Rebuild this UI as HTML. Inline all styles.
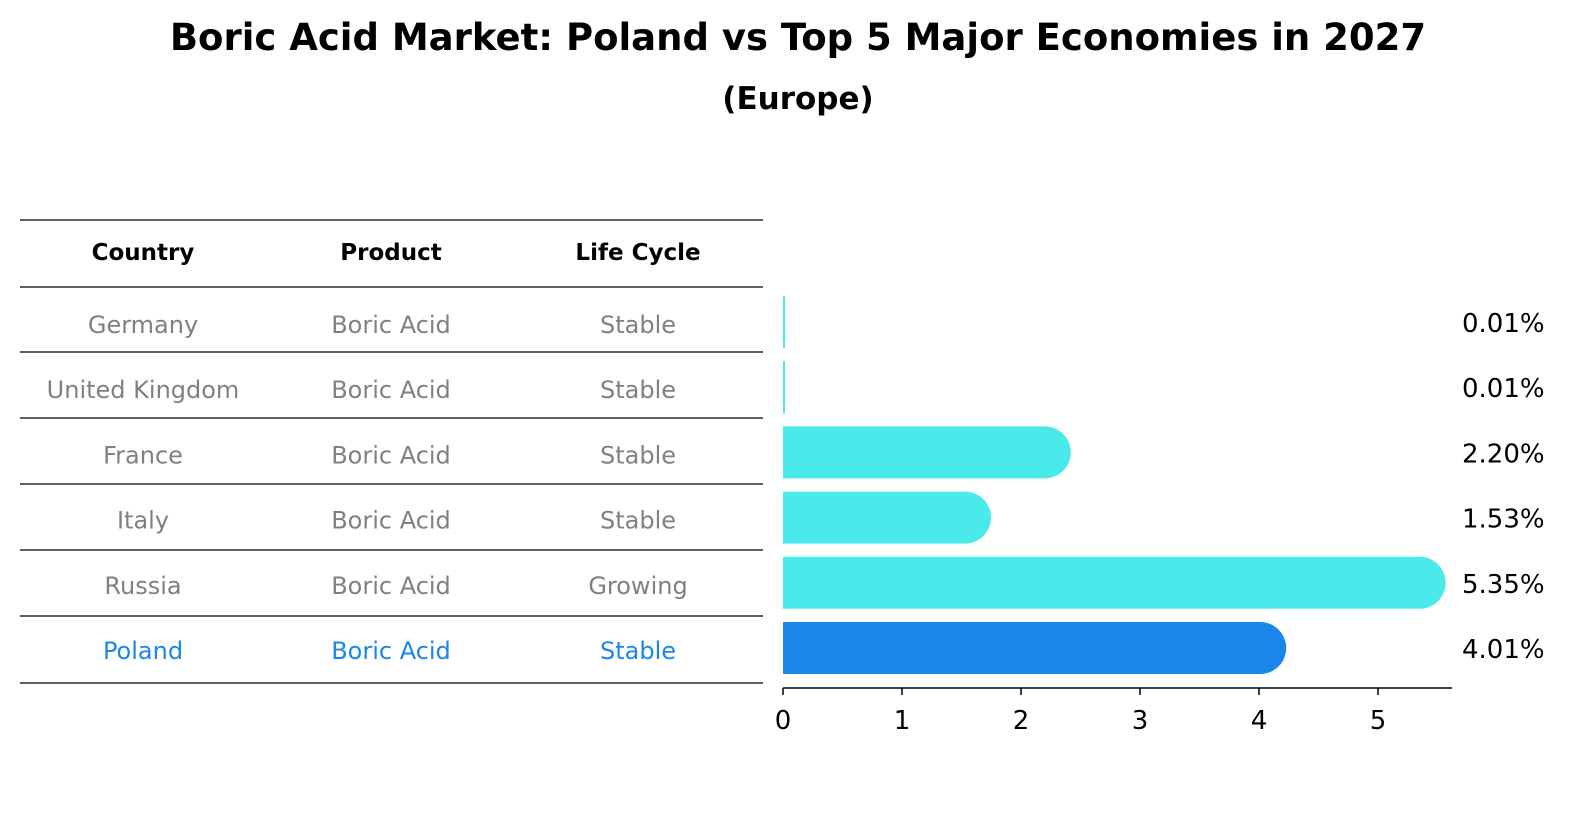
<!DOCTYPE html>
<html><head><meta charset="utf-8"><style>
body{margin:0;background:#fff;}
svg{display:block;font-family:"DejaVu Sans","Liberation Sans",sans-serif;}
</style></head><body>
<svg width="1586" height="823" viewBox="0 0 1586 823">
<text x="798" y="50" text-anchor="middle" font-size="37" font-weight="bold">Boric Acid Market: Poland vs Top 5 Major Economies in 2027</text>
<text x="798" y="109" text-anchor="middle" font-size="31" font-weight="bold">(Europe)</text>
<g id="table"></g>
<g id="bars"></g>
</svg>
<script>
const countries=["Germany","United Kingdom","France","Italy","Russia","Poland"];
const products=["Boric Acid","Boric Acid","Boric Acid","Boric Acid","Boric Acid","Boric Acid"];
const lifecycle=["Stable","Stable","Stable","Stable","Growing","Stable"];
const values=[0.01,0.01,2.20,1.53,5.35,4.01];
const valueLabels=["0.01%","0.01%","2.20%","1.53%","5.35%","4.01%"];
const ticks=[0,1,2,3,4,5];
const NS="http://www.w3.org/2000/svg";
function mk(tag,attrs,parent,text){const e=document.createElementNS(NS,tag);for(const k in attrs)e.setAttribute(k,attrs[k]);if(text!==undefined)e.textContent=text;parent.appendChild(e);return e;}
const tbl=document.getElementById('table');
const lineYs=[220,287,352,418,484,550,616,683];
const colX=[143,391,638];
lineYs.forEach((y,i)=>{const l=mk('line',{x1:20,x2:763,y1:y,y2:y,stroke:'#000','stroke-width':1.2},tbl);

});
["Country","Product","Life Cycle"].forEach((h,i)=>{const t=mk('text',{x:colX[i],y:260,'text-anchor':'middle','font-size':23,'font-weight':'bold'},tbl,h);

});
function rowY(i){return 322+i*65.2;}
countries.forEach((c,i)=>{const col=i===countries.length-1?'#1a86e8':'#808080';
[c,products[i],lifecycle[i]].forEach((v,j)=>{const t=mk('text',{x:colX[j],y:rowY(i)+4,'text-anchor':'middle','font-size':24,fill:col,'dominant-baseline':'middle'},tbl,v);

});});
const g=document.getElementById('bars');
const x0=783,pxPerUnit=119;
function xs(v){return x0+v*pxPerUnit;}
const h=52,r=26;
values.forEach((v,i)=>{const cy=rowY(i);const col=i===values.length-1?'#1a86e8':'#4aeaea';
const xe=xs(v);
let d;
if(v<0.1){d=`M${x0},${cy-h/2}h2v${h}h-2z`;}
else d=`M${x0},${cy-h/2}H${xe}A${r},${r} 0 0 1 ${xe},${cy+h/2}H${x0}Z`;
const p=mk('path',{d:d,fill:col},g);


const t=mk('text',{x:1462,y:cy+10,'font-size':26},g,valueLabels[i]);

});
const ax=mk('line',{x1:x0,x2:1452,y1:688,y2:688,stroke:'#000','stroke-width':1.5},g);


ticks.forEach(tv=>{const tl=mk('line',{x1:xs(tv),x2:xs(tv),y1:688,y2:695,stroke:'#000','stroke-width':1.5},g);


const t=mk('text',{x:xs(tv),y:729,'text-anchor':'middle','font-size':26},g,String(tv));

});
</script>
</body></html>
